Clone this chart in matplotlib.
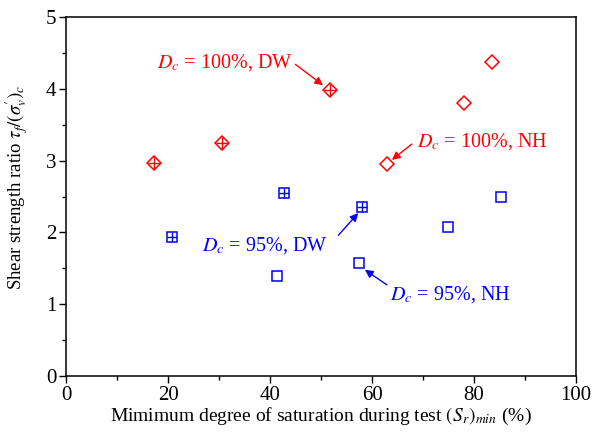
import numpy as np
import matplotlib
matplotlib.use("Agg")
import matplotlib.pyplot as plt

# data
sr_100_dw = [17.3, 30.5, 51.8]
ratio_100_dw = [2.96, 3.24, 3.98]
sr_100_nh = [62.9, 78.1, 83.6]
ratio_100_nh = [2.95, 3.80, 4.38]
sr_95_dw = [20.7, 42.7, 58.0]
ratio_95_dw = [1.93, 2.55, 2.35]
sr_95_nh = [41.3, 57.5, 74.9, 85.2]
ratio_95_nh = [1.39, 1.57, 2.07, 2.50]

plt.rcParams['font.family'] = ['Liberation Serif', 'DejaVu Serif']
plt.rcParams['mathtext.fontset'] = 'stix'

fig = plt.figure(figsize=(5.92, 4.32), dpi=100)
ax = fig.add_axes([0.1115, 0.1296, 0.8615, 0.831])

red = '#ff0000'
blue = '#0000ff'

ax.plot(sr_100_dw, ratio_100_dw, 'D', ms=7.5, mfc='none', mec=red, mew=1.1, ls='none')
ax.plot(sr_100_dw, ratio_100_dw, '+', ms=8, mec=red, mew=1.0, ls='none')
ax.plot(sr_100_nh, ratio_100_nh, 'D', ms=7.5, mfc='none', mec=red, mew=1.1, ls='none')
ax.plot(sr_95_dw, ratio_95_dw, 's', ms=6.5, mfc='none', mec=blue, mew=1.1, ls='none')
ax.plot(sr_95_dw, ratio_95_dw, '+', ms=6.5, mec=blue, mew=1.0, ls='none')
ax.plot(sr_95_nh, ratio_95_nh, 's', ms=6.5, mfc='none', mec=blue, mew=1.1, ls='none')

arrow = dict(arrowstyle='-|>', lw=1.0, mutation_scale=12, shrinkA=0, shrinkB=0)

ax.text(44.5, 4.37, r'$D_c$ = 100%, DW', color=red, fontsize=14.5, ha='right', va='center')
ax.annotate('', xy=(50.4, 4.05), xytext=(45.0, 4.34),
            arrowprops=dict(arrow, color=red))
ax.text(68.8, 3.27, r'$D_c$ = 100%, NH', color=red, fontsize=14.5, ha='left', va='center')
ax.annotate('', xy=(63.9, 3.01), xytext=(67.8, 3.23),
            arrowprops=dict(arrow, color=red))
ax.text(51.4, 1.82, r'$D_c$ = 95%, DW', color=blue, fontsize=14.5, ha='right', va='center')
ax.annotate('', xy=(57.3, 2.27), xytext=(53.4, 1.96),
            arrowprops=dict(arrow, color=blue))
ax.text(63.5, 1.13, r'$D_c$ = 95%, NH', color=blue, fontsize=14.5, ha='left', va='center')
ax.annotate('', xy=(58.6, 1.48), xytext=(62.9, 1.27),
            arrowprops=dict(arrow, color=blue))

ax.set_xlim(0, 100)
ax.set_ylim(0, 5)
ax.set_xticks(np.arange(0, 101, 20))
ax.set_xticks(np.arange(10, 100, 20), minor=True)
ax.set_yticks(np.arange(0, 6, 1))
ax.set_yticks(np.arange(0.5, 5, 1), minor=True)
ax.tick_params(which='both', direction='out', labelsize=15, width=1)
ax.tick_params(which='major', length=5, pad=2)
ax.tick_params(which='minor', length=3)
for s in ax.spines.values():
    s.set_linewidth(1.1)

ax.set_xlabel(r'Mimimum degree of saturation during test $(S_r)_{min}$ (%)', fontsize=14, labelpad=1)
ax.set_ylabel(r"Shear strength ratio $\tau_f/(\sigma_v^{\prime})_c$", fontsize=13.5)
ax.yaxis.set_label_coords(-0.07, 0.525)

fig.savefig('out.png', dpi=100)
